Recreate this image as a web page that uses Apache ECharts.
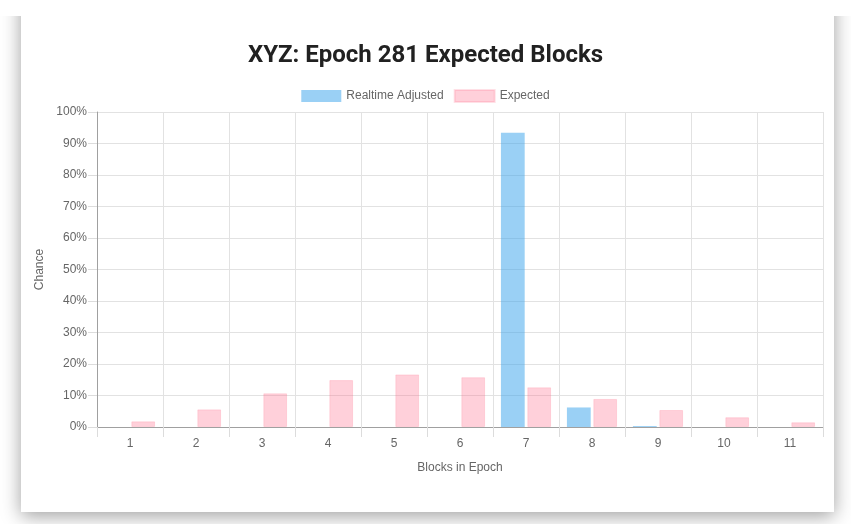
<!DOCTYPE html>
<html>
<head>
<meta charset="utf-8">
<script src="https://cdn.jsdelivr.net/npm/echarts@6/dist/echarts.min.js"></script>
<style>
html,body{margin:0;padding:0;background:#fff;width:851px;height:524px;overflow:hidden;}
#card{position:absolute;left:21px;top:-20px;width:813px;height:532px;background:#fff;box-shadow:0 4px 18px rgba(0,0,0,0.38);}
#strip{position:absolute;left:0;top:0;width:851px;height:16px;background:#fff;}
#chart{position:absolute;left:0;top:0;width:851px;height:524px;}
</style>
</head>
<body>
<div id="card"></div>
<div id="strip"></div>
<div id="chart"></div>
<script>
const titleText = 'XYZ: Epoch 281 Expected Blocks';
const categories = ['1','2','3','4','5','6','7','8','9','10','11'];
const realtimeAdjusted = [0, 0, 0, 0, 0, 0, 93.4, 6.2, 0.3, 0, 0];
const expected = [1.8, 5.6, 10.7, 14.9, 16.7, 15.8, 12.6, 8.9, 5.4, 3.1, 1.5];
const seriesNames = ['Realtime Adjusted', 'Expected'];
const xAxisTitle = 'Blocks in Epoch';
const yAxisTitle = 'Chance';

const chart = echarts.init(document.getElementById('chart'), null, {renderer: 'canvas'});
const labelFont = {fontFamily: 'Liberation Sans, Arial, sans-serif', fontSize: 12, color: '#666'};
chart.setOption({
  animation: false,
  title: {
    text: titleText, left: 'center', top: 39,
    textStyle: {fontFamily: 'Roboto, sans-serif', fontWeight: 'bold', fontSize: 24, color: '#212121'}
  },
  legend: {
    top: 84, left: 'center', itemWidth: 40, itemHeight: 12, itemGap: 10,
    icon: 'rect',
    textStyle: labelFont,
    data: seriesNames
  },
  grid: {left: 97, right: 28, top: 112, bottom: 97},
  xAxis: {
    type: 'category', data: categories, boundaryGap: true,
    name: xAxisTitle, nameLocation: 'middle', nameGap: 35,
    nameTextStyle: labelFont,
    axisLine: {lineStyle: {color: '#a0a0a0', width: 1}},
    axisTick: {show: true, length: 10, alignWithLabel: false, lineStyle: {color: '#dcdcdc'}},
    axisLabel: Object.assign({margin: 11}, labelFont),
    splitLine: {show: true, lineStyle: {color: '#e2e2e2'}}
  },
  yAxis: {
    type: 'value', min: 0, max: 100, interval: 10,
    name: yAxisTitle, nameLocation: 'middle', nameGap: 50,
    nameTextStyle: labelFont,
    axisLine: {show: true, lineStyle: {color: '#a0a0a0', width: 1}},
    axisTick: {show: true, length: 9, lineStyle: {color: '#dcdcdc'}},
    axisLabel: Object.assign({margin: 10, formatter: '{value}%'}, labelFont),
    splitLine: {show: true, lineStyle: {color: '#e2e2e2'}}
  },
  series: [
    {
      name: seriesNames[0], type: 'bar', data: realtimeAdjusted,
      barWidth: '36%', barGap: '11%',
      itemStyle: {color: 'rgba(54,162,235,0.5)', borderWidth: 0}
    },
    {
      name: seriesNames[1], type: 'bar', data: expected,
      barWidth: '36%', barGap: '11%',
      itemStyle: {color: 'rgba(255,99,132,0.3)', borderColor: 'rgba(255,99,132,0.2)', borderWidth: 1}
    }
  ]
});
</script>
</body>
</html>
